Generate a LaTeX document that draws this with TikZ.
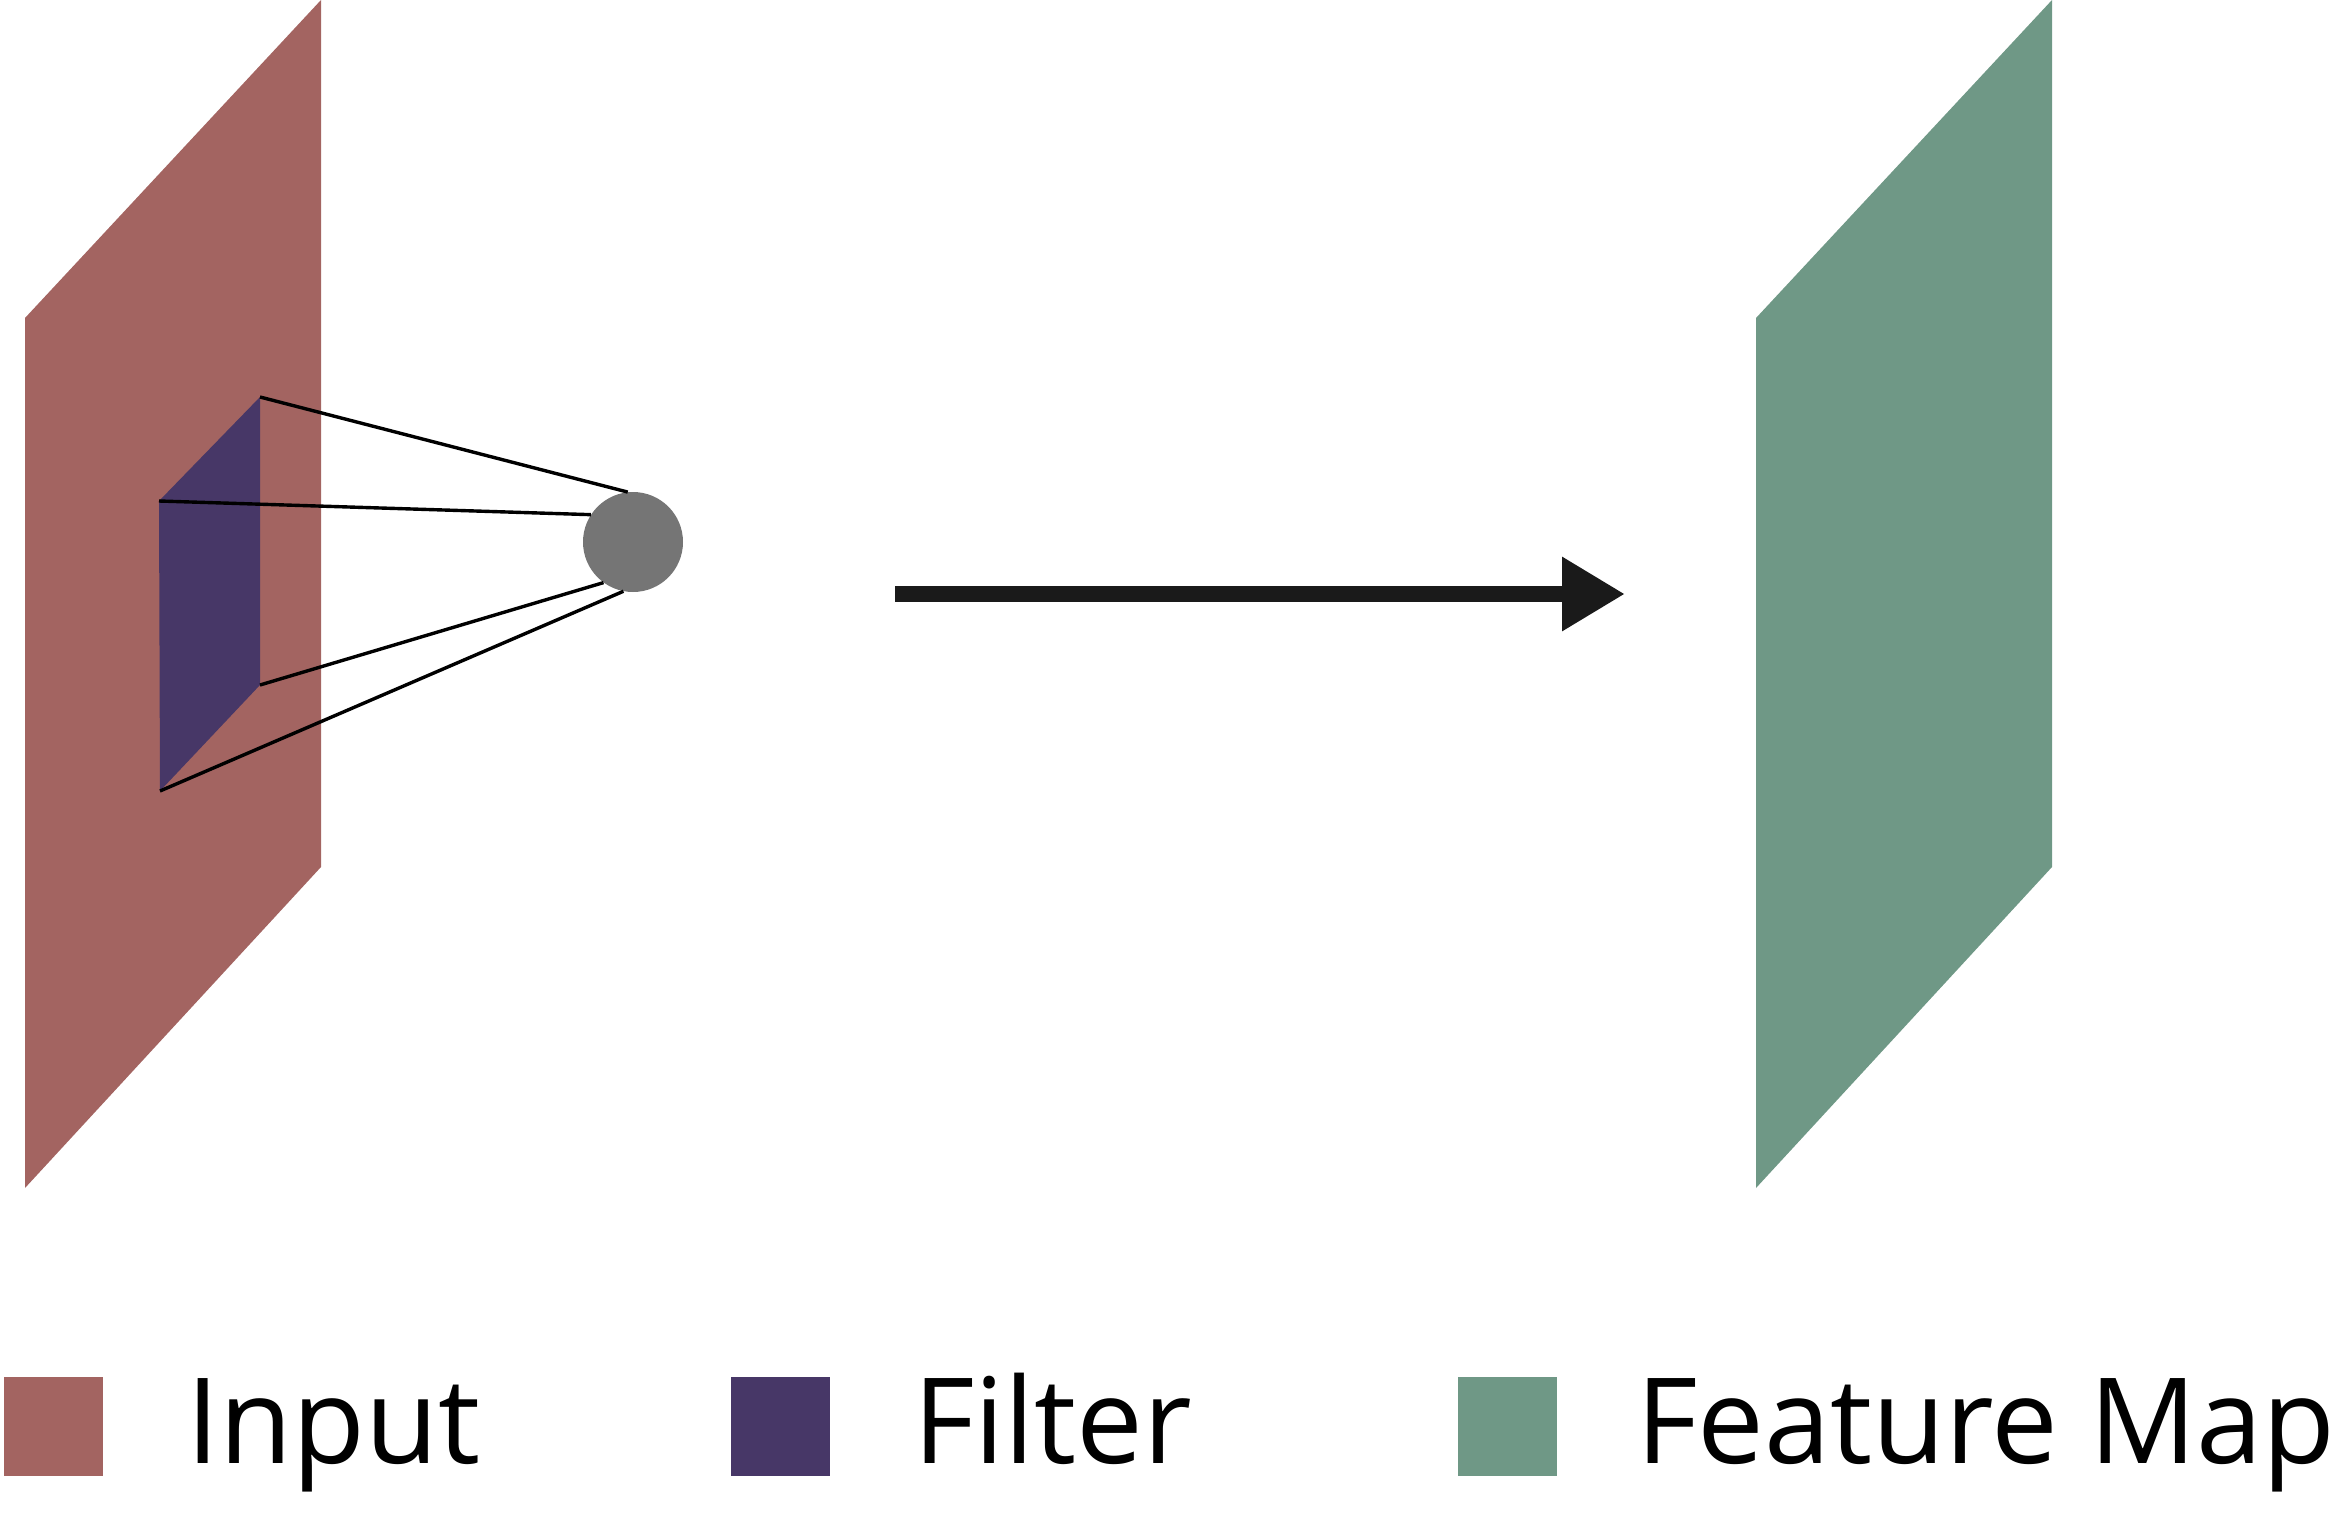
\documentclass[tikz,border=0pt]{standalone}
\usepackage{fontspec}
\setmainfont{Open Sans}
\usetikzlibrary{arrows.meta}
\definecolor{inputc}{HTML}{A36461}
\definecolor{filterc}{HTML}{473767}
\definecolor{featc}{HTML}{6F9886}
\definecolor{neuronc}{HTML}{757575}
\definecolor{arrowc}{HTML}{1A1A1A}
\tikzset{
  conn/.style={line width=3.4pt, black},
  legsq/.style={minimum size=99pt, inner sep=0pt, draw=none},
  legtxt/.style={anchor=base west, inner sep=0pt, font=\fontsize{119}{144}\selectfont},
  bigarrow/.style={line width=16pt, arrowc, -{Triangle[length=63pt, width=70pt]}},
}
\begin{document}
\begin{tikzpicture}[x=1pt, y=-1pt]
\useasboundingbox (0,0) rectangle (2351,1517);
% input plane
\fill[inputc] (25,318) -- (321,0) -- (321,867) -- (25,1188) -- cycle;
% filter
\coordinate (ftr) at (260,397);
\coordinate (ftl) at (159,501);
\coordinate (fbr) at (260,685);
\coordinate (fbl) at (160,791);
\fill[filterc] (ftl) -- (ftr) -- (fbr) -- (fbl) -- cycle;
% neuron
\node[circle, fill=neuronc, minimum size=100pt, inner sep=0pt] (c) at (633,542) {};
\draw[conn] (ftr) -- (c.96);
\draw[conn] (ftl) -- (c.147);
\draw[conn] (fbr) -- (c.234);
\draw[conn] (fbl) -- (c.259);
% arrow
\coordinate (as) at (895,594);
\coordinate (ae) at (1625,594);
\draw[bigarrow] (as) -- (ae);
% feature map
\fill[featc] (1756,318) -- (2052,0) -- (2052,867) -- (1756,1188) -- cycle;
% legend
\node[legsq, fill=inputc, anchor=north west] (l1) at (4,1377) {};
\node[legtxt] (t1) at (186,1463) {Input};
\node[legsq, fill=filterc, anchor=north west] (l2) at (731,1377) {};
\node[legtxt] (t2) at (913,1463) {Filter};
\node[legsq, fill=featc, anchor=north west] (l3) at (1458,1377) {};
\node[legtxt] (t3) at (1636,1463) {Feature Map};
\end{tikzpicture}
\end{document}
